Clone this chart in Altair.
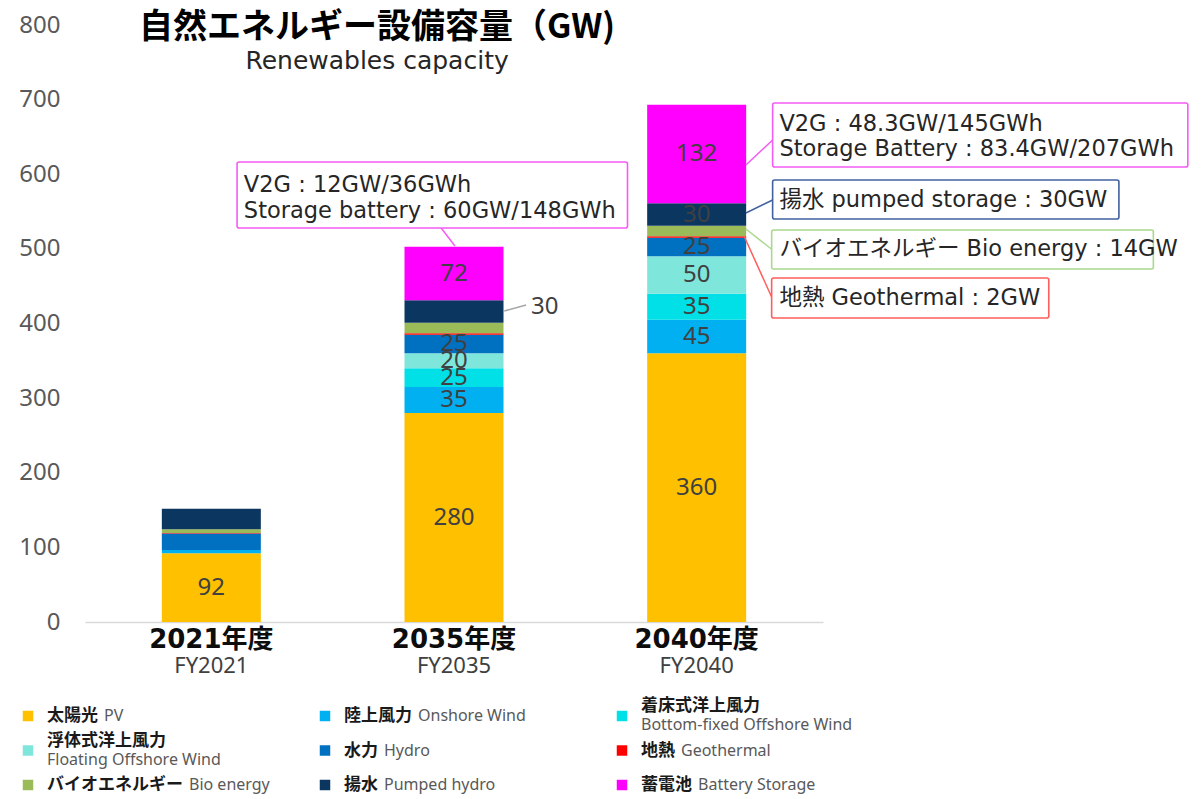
import altair as alt
import pandas as pd

# ---------------- data ----------------
years = ["2021年度", "2035年度", "2040年度"]
fy_labels = ["FY2021", "FY2035", "FY2040"]

series_jp = ["太陽光", "陸上風力", "着床式洋上風力", "浮体式洋上風力", "水力", "地熱",
             "バイオエネルギー", "揚水", "蓄電池"]
series_en = ["PV", "Onshore Wind", "Bottom-fixed Offshore Wind", "Floating Offshore Wind",
             "Hydro", "Geothermal", "Bio energy", "Pumped hydro", "Battery Storage"]
series_colors = ["#FFC000", "#00B0F0", "#00E0E6", "#7FE6DC", "#0070C0", "#FF0000",
                 "#9BBB59", "#0B3660", "#FF00FF"]
two_line = [False, False, True, True, False, False, False, False, False]

pv = [92, 280, 360]
onshore = [4.5, 35, 45]
bottom_fixed = [0.1, 25, 35]
floating = [0, 20, 50]
hydro = [22, 25, 25]
geothermal = [0.6, 2, 2]
bio = [5, 14, 14]
pumped = [27.5, 30, 30]
battery = [0, 72, 132]

# which segments carry an in-bar value label
show_pv = [True, True, True]
show_onshore = [False, True, True]
show_bottom = [False, True, True]
show_floating = [False, True, True]
show_hydro = [False, True, True]
show_geo = [False, False, False]
show_bio = [False, False, False]
show_pumped = [False, False, True]
show_battery = [False, True, True]

# annotation call-outs (x in bar-index units, y in GW)
box_x0 = [0.106, 2.313, 2.313, 2.309, 2.309]
box_x1 = [1.715, 4.024, 3.740, 3.882, 3.451]
box_y0 = [528.0, 609.7, 540.0, 473.0, 407.4]
box_y1 = [616.4, 695.5, 592.3, 525.3, 461.0]
box_colors = ["#F45CF4", "#F45CF4", "#41619E", "#A9D88E", "#FF5E5E"]

lead_x0 = [0.947, 2.313, 2.313, 2.313, 2.309, 1.207]
lead_y0 = [528.0, 645.9, 565.5, 498.5, 435.5, 416.8]
lead_x1 = [1.004, 2.203, 2.203, 2.203, 2.195, 1.297]
lead_y1 = [503.9, 612.4, 548.1, 526.6, 517.3, 424.8]
lead_colors = ["#F45CF4", "#F45CF4", "#41619E", "#A9D88E", "#FF5E5E", "#A6A6A6"]

ann_text = ["V2G : 12GW/36GWh", "Storage battery : 60GW/148GWh",
            "V2G : 48.3GW/145GWh", "Storage Battery : 83.4GW/207GWh",
            "揚水 pumped storage : 30GW", "バイオエネルギー Bio energy : 14GW",
            "地熱 Geothermal : 2GW"]
ann_x = [0.134, 0.134, 2.341, 2.341, 2.341, 2.341, 2.341]
ann_y = [585.6, 550.8, 667.3, 633.8, 565.5, 499.8, 434.2]

out_text = ["30"]
out_x = [1.317]
out_y = [422.1]

title_text = ["自然エネルギー設備容量（GW)"]
subtitle_text = ["Renewables capacity"]
title_x = [0.683]
title_y = [796.0]
subtitle_y = [751.8]

# ---------------- tables ----------------
series_names = [f"{j} {e}" for j, e in zip(series_jp, series_en)]
all_vals = [pv, onshore, bottom_fixed, floating, hydro, geothermal, bio, pumped, battery]
all_show = [show_pv, show_onshore, show_bottom, show_floating, show_hydro, show_geo,
            show_bio, show_pumped, show_battery]

rows = []
for si, (name, vals, shows) in enumerate(zip(series_names, all_vals, all_show)):
    for xi, (v, s) in enumerate(zip(vals, shows)):
        rows.append({"xi": xi, "year": years[xi], "series": name, "idx": si,
                     "value": v, "label": (f"{v:g}" if s else "")})
df = pd.DataFrame(rows)

cat_df = pd.DataFrame({"xi": [0, 1, 2], "year": years, "fy": fy_labels})
box_df = pd.DataFrame({"x0": box_x0, "x1": box_x1, "y0": box_y0, "y1": box_y1, "c": box_colors})
lead_df = pd.DataFrame({"x0": lead_x0, "x1": lead_x1, "y0": lead_y0, "y1": lead_y1, "c": lead_colors})
ann_df = pd.DataFrame({"x": ann_x, "y": ann_y, "t": ann_text})
out_df = pd.DataFrame({"x": out_x, "y": out_y, "t": out_text})
title_df = pd.DataFrame({"x": title_x, "y": title_y, "t": title_text})
sub_df = pd.DataFrame({"x": title_x, "y": subtitle_y, "t": subtitle_text})
leg_df = pd.DataFrame({"series": series_names, "jp": series_jp, "en": series_en,
                       "row": [i // 3 for i in range(9)], "col": [i % 3 for i in range(9)],
                       "two": two_line})

# ---------------- scales ----------------
x_scale = alt.Scale(domain=[-0.5, 2.5], nice=False, zero=False)
y_scale = alt.Scale(domain=[0, 800], nice=False)
color_scale = alt.Scale(domain=series_names, range=series_colors)

JP_FONT = "Noto Sans CJK JP"
LAT_FONT = "DejaVu Sans, Noto Sans CJK JP"

bars = alt.Chart(df).mark_bar(size=99).encode(
    x=alt.X("xi:Q", scale=x_scale, title=None,
            axis=alt.Axis(labels=False, ticks=False, grid=False, domainColor="#D9D9D9",
                          domainWidth=1.5)),
    y=alt.Y("value:Q", stack="zero", scale=y_scale, title=None,
            axis=alt.Axis(values=list(range(0, 801, 100)), grid=False, domain=False, ticks=False,
                          labelFont="Noto Sans", labelFontSize=24, labelColor="#595959",
                          labelPadding=25)),
    color=alt.Color("series:N", scale=color_scale, legend=None),
    order=alt.Order("idx:Q", sort="ascending"),
)

labels = alt.Chart(df).transform_stack(
    stack="value", groupby=["xi"], sort=[alt.SortField("idx", order="ascending")],
    as_=["v0", "v1"]
).transform_calculate(mid="(datum.v0 + datum.v1) / 2").transform_filter(
    "datum.label != ''"
).mark_text(font="Noto Sans", fontSize=24, color="#404040").encode(
    x=alt.X("xi:Q", title=None), y=alt.Y("mid:Q", title=None), text="label:N"
)

cat1 = alt.Chart(cat_df).mark_text(font="DejaVu Sans, Noto Sans CJK JP", fontWeight="bold",
                                   fontSize=26, color="#0D0D0D", dy=18, baseline="middle").encode(
    x=alt.X("xi:Q", title=None), y=alt.datum(0), text="year:N")
cat2 = alt.Chart(cat_df).mark_text(font="Noto Sans", fontSize=22, color="#404040",
                                   dy=44, baseline="middle").encode(
    x=alt.X("xi:Q", title=None), y=alt.datum(0), text="fy:N")

title = alt.Chart(title_df).mark_text(font=JP_FONT, fontWeight="bold", fontSize=34,
                                      color="#000000", baseline="middle").encode(
    x=alt.X("x:Q", title=None), y=alt.Y("y:Q", title=None), text="t:N")
subtitle = alt.Chart(sub_df).mark_text(font=LAT_FONT, fontSize=25, color="#262626",
                                       baseline="middle").encode(
    x=alt.X("x:Q", title=None), y=alt.Y("y:Q", title=None), text="t:N")

boxes = alt.Chart(box_df).mark_rect(fill="white", strokeWidth=1.6, cornerRadius=2).encode(
    x=alt.X("x0:Q", title=None), x2="x1:Q", y=alt.Y("y0:Q", title=None), y2="y1:Q",
    stroke=alt.Stroke("c:N", scale=None))

leaders = alt.Chart(lead_df).mark_rule(strokeWidth=1.5).encode(
    x=alt.X("x0:Q", title=None), x2="x1:Q", y=alt.Y("y0:Q", title=None), y2="y1:Q",
    color=alt.Color("c:N", scale=None))

ann = alt.Chart(ann_df).mark_text(font=LAT_FONT, fontSize=22.5, color="#262626", align="left",
                                  baseline="middle").encode(
    x=alt.X("x:Q", title=None), y=alt.Y("y:Q", title=None), text="t:N")

out30 = alt.Chart(out_df).mark_text(font="Noto Sans", fontSize=24, color="#404040",
                                    align="left", baseline="middle").encode(
    x=alt.X("x:Q", title=None), y=alt.Y("y:Q", title=None), text="t:N")

main = alt.layer(bars, labels, cat1, cat2, title, subtitle, leaders, boxes, ann, out30)

# ---------------- legend ----------------
lx = alt.Scale(domain=[0, 2], range=[-57, 537])
ly = alt.Scale(domain=[0, 2], range=[691, 760])
JP_LEG = 17
EN_LEG = 16

leg_base = alt.Chart(leg_df)
sq = leg_base.mark_square(size=110, opacity=1).encode(
    x=alt.X("col:Q", scale=lx, axis=None), y=alt.Y("row:Q", scale=ly, axis=None),
    color=alt.Color("series:N", scale=color_scale, legend=None))

jp1 = leg_base.transform_filter("!datum.two").mark_text(
    font=JP_FONT, fontWeight="bold", fontSize=JP_LEG, color="#1A1A1A", align="left",
    baseline="middle", dx=19).encode(
    x=alt.X("col:Q", scale=lx, axis=None), y=alt.Y("row:Q", scale=ly, axis=None), text="jp:N")
en1 = leg_base.transform_filter("!datum.two").transform_calculate(
    ex=f"datum.col + (length(datum.jp) * {JP_LEG} + 25) / 297").mark_text(
    font="Noto Sans", fontSize=EN_LEG, color="#595959", align="left", baseline="middle").encode(
    x=alt.X("ex:Q", scale=lx, axis=None), y=alt.Y("row:Q", scale=ly, axis=None), text="en:N")
jp2 = leg_base.transform_filter("datum.two").mark_text(
    font=JP_FONT, fontWeight="bold", fontSize=JP_LEG, color="#1A1A1A", align="left",
    baseline="middle", dx=19, dy=-10).encode(
    x=alt.X("col:Q", scale=lx, axis=None), y=alt.Y("row:Q", scale=ly, axis=None), text="jp:N")
en2 = leg_base.transform_filter("datum.two").mark_text(
    font="Noto Sans", fontSize=EN_LEG, color="#595959", align="left", baseline="middle",
    dx=19, dy=9).encode(
    x=alt.X("col:Q", scale=lx, axis=None), y=alt.Y("row:Q", scale=ly, axis=None), text="en:N")

legend = alt.layer(sq, jp1, en1, jp2, en2)

chart = alt.layer(main, legend).resolve_scale(x="independent", y="independent").properties(
    width=738, height=597,
    autosize=alt.AutoSizeParams(type="none"),
    padding={"left": 77, "top": 17, "right": 373, "bottom": 180},
).configure_view(stroke=None)

chart.save("out.html", embed_options={"renderer": "svg", "actions": False})
